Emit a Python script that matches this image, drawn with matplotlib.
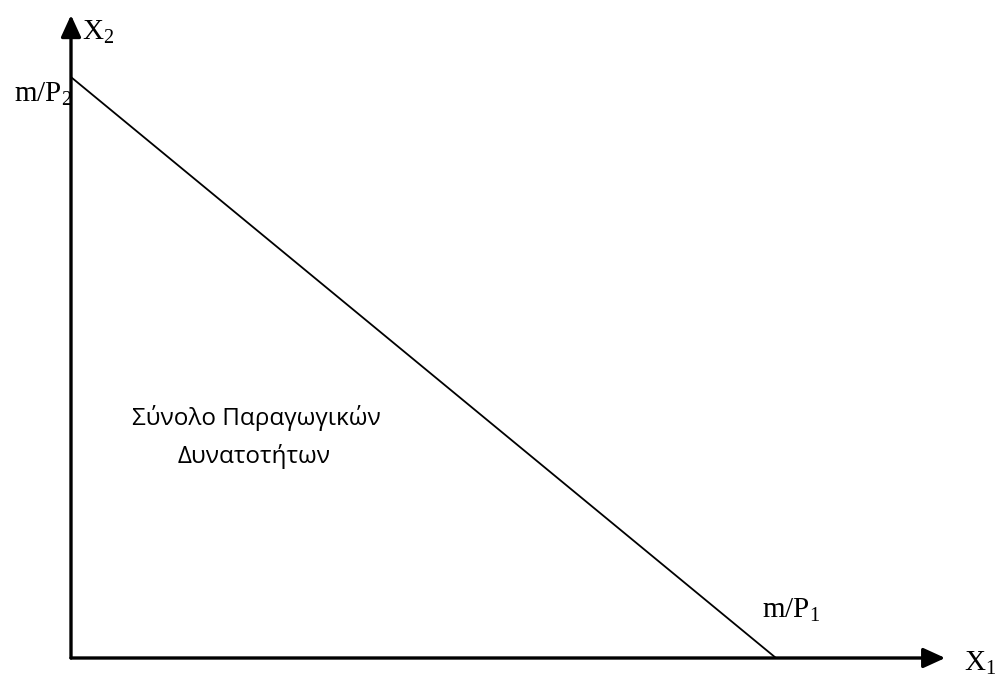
import matplotlib
matplotlib.use("Agg")
import matplotlib.pyplot as plt

# Data: budget line intercepts (m/P1 on X1 axis, m/P2 on X2 axis)
m_over_P1 = 10.0
m_over_P2 = 8.24
x_axis_end = 12.4
y_axis_end = 9.12
x_labels = ["X$_1$", "m/P$_1$"]
y_labels = ["X$_2$", "m/P$_2$"]
region_lines = ["Σύνολο Παραγωγικών", "Δυνατοτήτων"]

plt.rcParams['mathtext.fontset'] = 'custom'
plt.rcParams['mathtext.rm'] = 'Liberation Serif'
plt.rcParams['mathtext.it'] = 'Liberation Serif:italic'

W, H = 998, 677
fig = plt.figure(figsize=(W / 100, H / 100), dpi=100)
unit = 70.5  # pixels per data unit
ox, oy = 71, 658  # origin in pixels (from top)
ax = fig.add_axes([ox / W, (H - oy) / H, (W - ox) / W, oy / H])
ax.set_xlim(0, (W - ox) / unit)
ax.set_ylim(0, oy / unit)
ax.axis('off')

# Axes arrows
for end in [(x_axis_end, 0), (0, y_axis_end)]:
    ax.annotate('', xy=end, xytext=(0, 0),
                arrowprops=dict(arrowstyle='-|>,head_length=0.7,head_width=0.32',
                                lw=2.4, color='black',
                                mutation_scale=19, shrinkA=0, shrinkB=0),
                annotation_clip=False)

# Budget line
ax.plot([0, m_over_P1], [m_over_P2, 0], color='black', lw=1.3,
        solid_capstyle='butt', clip_on=False)

serif = dict(family='Liberation Serif', fontsize=21, color='black')
ax.text(x_axis_end + 0.27, -0.08, x_labels[0], ha='left', va='center', clip_on=False, **serif)
ax.text(9.8, 0.48, x_labels[1], ha='left', va='bottom', clip_on=False, **serif)
ax.text(0.16, y_axis_end - 0.25, y_labels[0], ha='left', va='center', clip_on=False, **serif)
ax.text(0.02, m_over_P2 - 0.25, y_labels[1], ha='right', va='center', clip_on=False, **serif)

ax.text(2.63, 3.305, region_lines[0], ha='center', va='baseline', family='Open Sans',
        fontsize=17.5, color='black')
ax.text(2.60, 2.766, region_lines[1], ha='center', va='baseline', family='Open Sans',
        fontsize=17.5, color='black')

fig.savefig('out.png', dpi=100)
